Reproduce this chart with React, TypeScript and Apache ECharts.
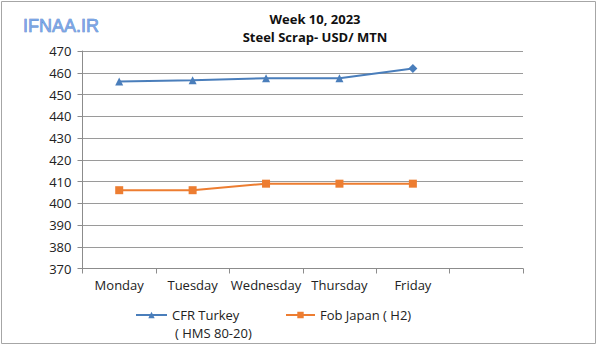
import React, { useEffect, useRef } from "react";
import * as echarts from "echarts";

const categories = ["Monday", "Tuesday", "Wednesday", "Thursday", "Friday", ""];
const cfrTurkey = [456, 456.5, 457.5, 457.5, 462];
const fobJapan = [406, 406, 409, 409, 409];
const yTicks = { min: 370, max: 470, interval: 10 };
const titleLines = ["Week 10, 2023", "Steel Scrap- USD/ MTN"];
const seriesNames = ["CFR Turkey", "Fob Japan ( H2)"];
const turkeySubLabel = "( HMS 80-20)";
const logoText = "IFNAA.IR";

const FONT = "'Open Sans', 'Noto Sans', sans-serif";

export default function App() {
  const ref = useRef<HTMLDivElement>(null);
  useEffect(() => {
    if (!ref.current) return;
    const chart = echarts.init(ref.current, null, { renderer: "svg" });
    const turkeyData = cfrTurkey.map((v, i) =>
      i === cfrTurkey.length - 1 ? { value: v, symbol: "diamond", symbolSize: 9 } : v
    );
    chart.setOption({
      animation: false,
      backgroundColor: "#ffffff",
      textStyle: { fontFamily: FONT },
      grid: { left: 82.5, right: 77, top: 51, bottom: 77.5, containLabel: false },
      title: {
        text: titleLines.join("\n"),
        left: 315,
        textAlign: "center",
        top: 10,
        padding: 0,
        textStyle: { fontFamily: FONT, fontSize: 13, fontWeight: "bold", color: "#111", lineHeight: 18 },
      },
      xAxis: {
        type: "category",
        data: categories,
        boundaryGap: true,
        axisLine: { lineStyle: { color: "#8c8c8c", width: 1 } },
        axisTick: { show: true, length: 5, alignWithLabel: false, lineStyle: { color: "#8c8c8c" } },
        axisLabel: { fontFamily: FONT, fontSize: 13, color: "#222", margin: 10, interval: 0 },
        splitLine: { show: false },
      },
      yAxis: {
        type: "value",
        min: yTicks.min,
        max: yTicks.max,
        interval: yTicks.interval,
        axisLine: { show: true, lineStyle: { color: "#8c8c8c", width: 1 } },
        axisTick: { show: true, length: 5, lineStyle: { color: "#8c8c8c" } },
        axisLabel: { fontFamily: FONT, fontSize: 13, color: "#222", margin: 11 },
        splitLine: { show: true, lineStyle: { color: "#9a9a9a", width: 1 } },
      },
      legend: [
        {
          data: [seriesNames[0]],
          left: 135,
          top: 308,
          padding: 0,
          itemWidth: 31,
          itemHeight: 8,
          itemGap: 0,
          textStyle: { fontFamily: FONT, fontSize: 13, color: "#222", lineHeight: 14 },
        },
        {
          data: [seriesNames[1]],
          left: 285,
          top: 308,
          padding: 0,
          itemWidth: 29,
          itemHeight: 8,
          itemGap: 0,
          textStyle: { fontFamily: FONT, fontSize: 13, color: "#222", lineHeight: 14 },
        },
      ],
      graphic: [
        {
          type: "rect",
          shape: { x: 1.5, y: 1.5, width: 594, height: 342 },
          style: { fill: "none", stroke: "#a6a6a6", lineWidth: 1 },
          silent: true,
        },
        {
          type: "text",
          x: 175,
          y: 326,
          style: { text: turkeySubLabel, font: "13px 'Open Sans', sans-serif", fill: "#222", lineHeight: 14 },
        },
        {
          type: "text",
          x: 23,
          y: 17,
          style: {
            text: logoText,
            font: "18px 'Liberation Sans', Arial, sans-serif",
            fill: "#7ba6e6",
            stroke: "#4a79c4",
            lineWidth: 0.6,
          },
        },
      ],
      series: [
        {
          name: seriesNames[0],
          type: "line",
          data: turkeyData,
          symbol: "triangle",
          symbolSize: 8,
          color: "#4a7ebb",
          lineStyle: { color: "#4a7ebb", width: 2 },
          itemStyle: { color: "#4a7ebb" },
        },
        {
          name: seriesNames[1],
          type: "line",
          data: fobJapan,
          symbol: "rect",
          symbolSize: 8,
          color: "#ed7d31",
          lineStyle: { color: "#ed7d31", width: 2 },
          itemStyle: { color: "#ed7d31" },
        },
      ],
    });
    return () => chart.dispose();
  }, []);
  return (
    <div
      ref={ref}
      style={{ position: "fixed", left: 0, top: 0, width: 600, height: 346, background: "#fff" }}
    />
  );
}
